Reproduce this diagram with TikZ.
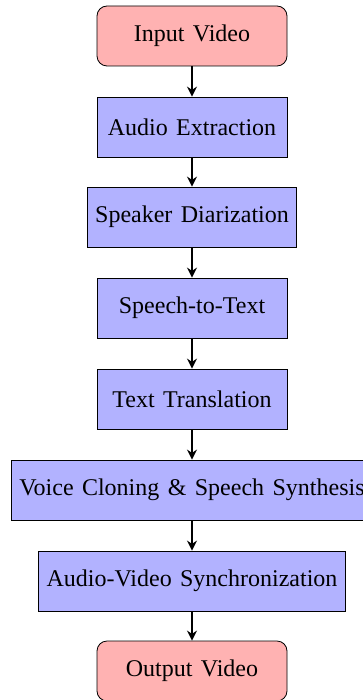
\documentclass[tikz,border=0pt]{standalone}
\usepackage{fontspec}
\setmainfont{Liberation Serif}
\usetikzlibrary{arrows.meta}
\newcommand\diagfont{\fontsize{12}{14}\selectfont\spaceskip 4.2pt plus 1pt minus 1pt\relax}
\begin{document}
\begin{tikzpicture}[x=1pt,y=1pt,
  every node/.style={font=\diagfont},
  termbox/.style={draw, rounded corners=5pt, fill=red!30, minimum width=95pt, minimum height=30pt, align=center},
  procbox/.style={draw, fill=blue!30, minimum width=95pt, minimum height=30pt, align=center, inner sep=4pt},
  flow/.style={thick, -{Stealth[length=5pt,width=5pt]}}]
\useasboundingbox (0,0) rectangle (181.5,-350);
\node[termbox] (in) at (96,-18) {Input Video};
\node[procbox] (ae) at (96,-63.5) {Audio Extraction};
\node[procbox] (sd) at (96,-108.5) {Speaker Diarization};
\node[procbox] (st) at (96,-154) {Speech-to-Text};
\node[procbox] (tt) at (96,-199.5) {Text Translation};
\node[procbox] (vc) at (96,-245) {Voice Cloning \& Speech Synthesis};
\node[procbox] (av) at (96,-290.5) {Audio-Video Synchronization};
\node[termbox] (out) at (96,-335.5) {Output Video};
\draw[flow] (in) -- (ae);
\draw[flow] (ae) -- (sd);
\draw[flow] (sd) -- (st);
\draw[flow] (st) -- (tt);
\draw[flow] (tt) -- (vc);
\draw[flow] (vc) -- (av);
\draw[flow] (av) -- (out);
\end{tikzpicture}
\end{document}
